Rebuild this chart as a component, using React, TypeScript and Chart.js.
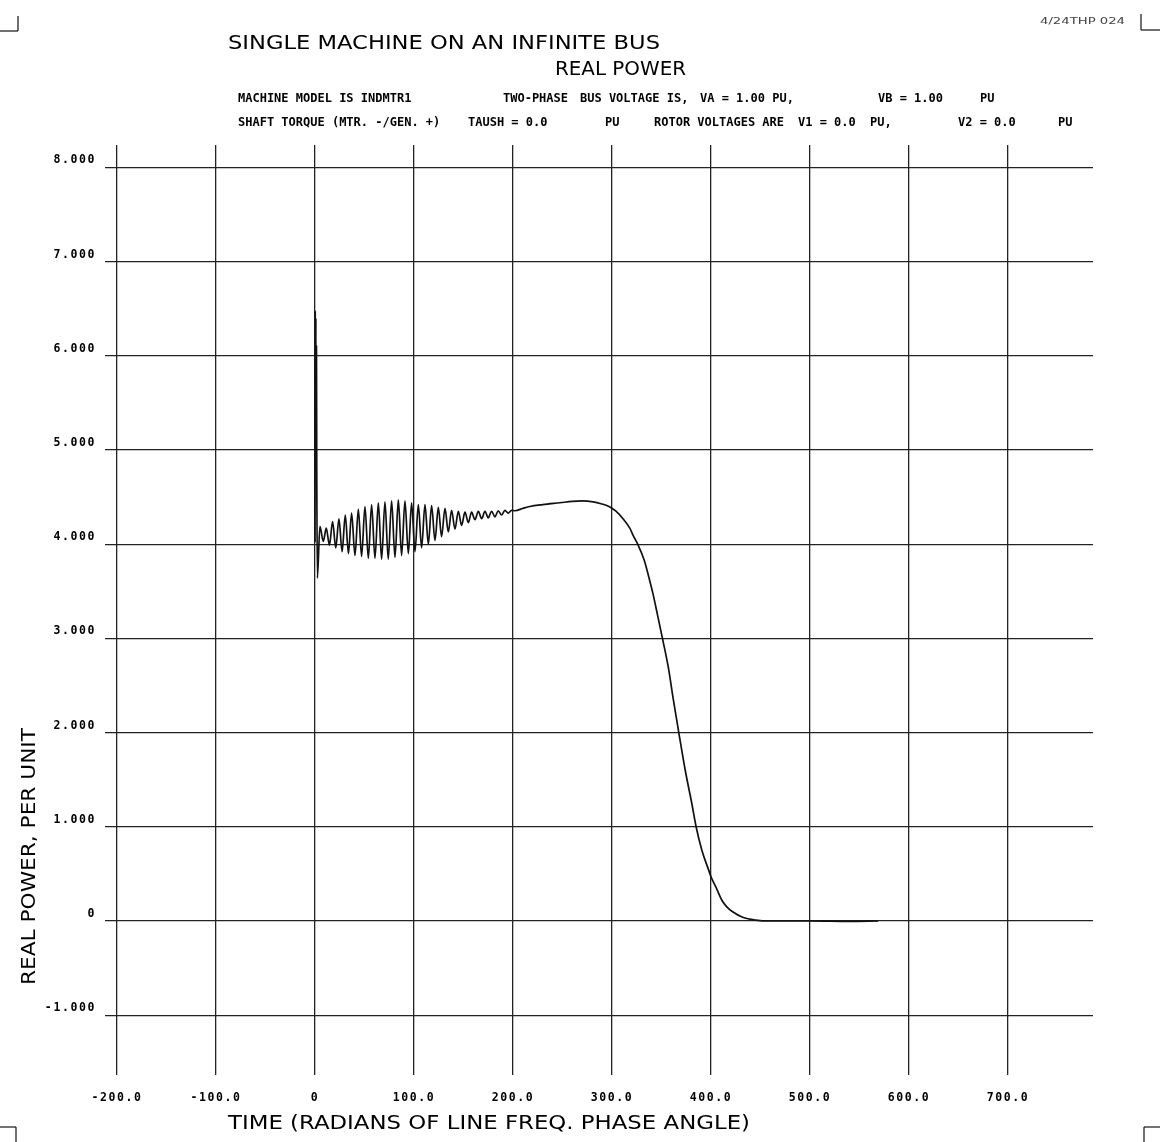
import React, { useEffect, useRef } from "react";
import { Chart, registerables } from "chart.js";

Chart.register(...registerables);

// Time axis (radians of line frequency phase angle)
const timeRad: number[] = [
  0.0, 0.3, 0.6, 0.9, 1.2, 1.5, 1.8, 2.4,
  5.0, 8.4, 11.4, 14.6, 17.8, 21.0, 24.2, 27.4, 30.6, 33.8, 37.0, 40.4,
  43.8, 47.1, 50.5, 53.9, 57.2, 60.6, 64.0, 67.3, 70.7, 74.0,
  77.4, 80.8, 84.2, 87.5, 90.9, 94.3, 97.6, 101.0, 104.4, 107.7,
  111.1, 114.5, 117.8, 121.2, 124.6, 127.9, 131.3, 134.7, 138.0, 141.4,
  144.8, 148.1, 151.5, 154.9, 158.2, 161.6, 165.0, 168.4, 171.7, 175.0,
  178.4, 181.8, 185.1, 188.5, 191.9, 195.2, 198.6, 202.0,
  210, 217, 230, 247.5, 260, 270, 281, 289, 297, 304, 312, 318, 322, 326,
  332.6, 337, 341.5, 346, 351, 356.8, 362, 367.5, 374, 380.6, 385, 390.8,
  397.7, 400, 405, 411, 416, 421.5, 432, 445, 460, 500, 540, 569,
];

// Real power, per unit
const realPowerPU: number[] = [
  4.02, 6.48, 5.0, 6.4, 5.0, 6.1, 4.8, 3.64,
  4.19, 4.03, 4.17, 3.99, 4.24, 3.96, 4.27, 3.92, 4.31, 3.9, 4.33, 3.88,
  4.37, 3.87, 4.4, 3.85, 4.42, 3.85, 4.44, 3.84, 4.45, 3.84,
  4.46, 3.86, 4.47, 3.88, 4.46, 3.9, 4.44, 3.92, 4.42, 3.96,
  4.42, 4.0, 4.41, 4.04, 4.39, 4.08, 4.38, 4.13, 4.36, 4.16,
  4.35, 4.2, 4.34, 4.23, 4.34, 4.26, 4.35, 4.27, 4.35, 4.28,
  4.35, 4.29, 4.355, 4.31, 4.36, 4.33, 4.36, 4.355,
  4.38, 4.4, 4.42, 4.44, 4.455, 4.46, 4.45, 4.43, 4.4, 4.35, 4.26, 4.17, 4.08, 4.0,
  3.83, 3.66, 3.47, 3.25, 3.0, 2.7, 2.35, 2.0, 1.6, 1.25, 1.0, 0.75,
  0.54, 0.47, 0.36, 0.22, 0.15, 0.1, 0.04, 0.01, 0.0, 0.0, -0.005, 0.0,
];

const xTickValues: number[] = [-200, -100, 0, 100, 200, 300, 400, 500, 600, 700];
const xTickLabels: string[] = ["-200.0", "-100.0", "0", "100.0", "200.0", "300.0", "400.0", "500.0", "600.0", "700.0"];
const yTickValues: number[] = [-1, 0, 1, 2, 3, 4, 5, 6, 7, 8];
const yTickLabels: string[] = ["-1.000", "0", "1.000", "2.000", "3.000", "4.000", "5.000", "6.000", "7.000", "8.000"];

const titleLine1 = "SINGLE MACHINE ON AN INFINITE BUS";
const titleLine2 = "REAL POWER";
const xAxisTitle = "TIME (RADIANS OF LINE FREQ. PHASE ANGLE)";
const yAxisTitle = "REAL POWER, PER UNIT";
const stampText = "4/24THP 024";

// header annotation tokens: [text, x]
const headerLine3: [string, number][] = [
  ["MACHINE MODEL IS INDMTR1", 238],
  ["TWO-PHASE", 503],
  ["BUS VOLTAGE IS,", 580],
  ["VA = 1.00 PU,", 700],
  ["VB = 1.00", 878],
  ["PU", 980],
];
const headerLine4: [string, number][] = [
  ["SHAFT TORQUE (MTR. -/GEN. +)", 238],
  ["TAUSH = 0.0", 468],
  ["PU", 605],
  ["ROTOR VOLTAGES ARE", 654],
  ["V1 = 0.0", 798],
  ["PU,", 870],
  ["V2 = 0.0", 958],
  ["PU", 1058],
];

const W = 1160;
const H = 1142;

export default function App() {
  const canvasRef = useRef<HTMLCanvasElement | null>(null);

  useEffect(() => {
    document.body.style.margin = "0";
    document.body.style.overflow = "hidden";
    const canvas = canvasRef.current!;
    const tickFont = { family: "'DejaVu Sans Mono', monospace", size: 11.5, weight: "bold" as const };
    const gridStyle = { color: "#222", lineWidth: 1.3, drawTicks: false };
    const spacingPlugin = {
      id: "tickLetterSpacing",
      beforeDraw(chart: any) {
        (chart.ctx as any).letterSpacing = "1.6px";
      },
    };
    const chart = new Chart(canvas, {
      type: "line",
      data: {
        datasets: [
          {
            data: timeRad.map((t, i) => ({ x: t, y: realPowerPU[i] })),
            borderColor: "#111",
            borderWidth: 1.7,
            pointRadius: 0,
            fill: false,
            cubicInterpolationMode: "monotone",
          },
        ],
      },
      options: {
        responsive: false,
        animation: false,
        devicePixelRatio: 1,
        layout: { padding: { top: 145, right: 67, left: 0, bottom: 0 } },
        plugins: { legend: { display: false }, tooltip: { enabled: false }, title: { display: false } },
        scales: {
          x: {
            type: "linear",
            min: -212.1,
            max: 785.9,
            afterBuildTicks: (s: any) => {
              s.ticks = xTickValues.map((v) => ({ value: v }));
            },
            afterFit: (s: any) => {
              s.height = 67;
            },
            ticks: {
              autoSkip: false,
              maxRotation: 0,
              padding: 16,
              color: "#000",
              font: tickFont,
              callback: (_v: any, i: number) => xTickLabels[i],
            },
            grid: gridStyle,
            border: { display: false },
          },
          y: {
            type: "linear",
            min: -1.635,
            max: 8.238,
            afterBuildTicks: (s: any) => {
              s.ticks = yTickValues.map((v) => ({ value: v }));
            },
            afterFit: (s: any) => {
              s.width = 105;
            },
            ticks: {
              autoSkip: false,
              padding: 9,
              labelOffset: -7,
              color: "#000",
              font: tickFont,
              callback: (_v: any, i: number) => yTickLabels[i],
            },
            grid: gridStyle,
            border: { display: false },
          },
        },
      },
      plugins: [spacingPlugin],
    } as any);
    return () => chart.destroy();
  }, []);

  const plotFont = "'DejaVu Sans', sans-serif";
  const monoFont = "'DejaVu Sans Mono', monospace";
  const hdr = { fontFamily: monoFont, fontSize: 12, fontWeight: 700, fill: "#000", whiteSpace: "pre" } as any;
  const big = { fontFamily: plotFont, fontSize: 20, fill: "#000" } as any;
  const mark = { stroke: "#111", strokeWidth: 1.2 };

  return (
    <div style={{ position: "relative", width: W, height: H, background: "#fff" }}>
      <canvas ref={canvasRef} width={W} height={H} style={{ position: "absolute", left: 0, top: 0, width: W, height: H }} />
      <svg width={W} height={H} style={{ position: "absolute", left: 0, top: 0, pointerEvents: "none" }}>
        <text x={228} y={49} textLength={432} lengthAdjust="spacingAndGlyphs" style={big}>{titleLine1}</text>
        <text x={555} y={75} textLength={131} lengthAdjust="spacingAndGlyphs" style={big}>{titleLine2}</text>

        {headerLine3.map(([t, x], i) => (
          <text key={"h3" + i} x={x} y={102} style={hdr}>{t}</text>
        ))}
        {headerLine4.map(([t, x], i) => (
          <text key={"h4" + i} x={x} y={126} style={hdr}>{t}</text>
        ))}

        <text x={228} y={1129} textLength={522} lengthAdjust="spacingAndGlyphs" style={big}>{xAxisTitle}</text>
        <text x={35} y={985} textLength={257} lengthAdjust="spacingAndGlyphs" transform="rotate(-90 35 985)" style={big}>{yAxisTitle}</text>

        <text x={1040} y={24} textLength={85} lengthAdjust="spacingAndGlyphs" style={{ fontFamily: plotFont, fontSize: 8, fill: "#444" }}>{stampText}</text>

        <line x1={0} y1={31} x2={18} y2={31} {...mark} />
        <line x1={18} y1={16} x2={18} y2={31} {...mark} />
        <line x1={1141} y1={14} x2={1141} y2={30} {...mark} />
        <line x1={1141} y1={30} x2={1160} y2={30} {...mark} />
        <line x1={0} y1={1127} x2={16} y2={1127} {...mark} />
        <line x1={16} y1={1127} x2={16} y2={1142} {...mark} />
        <line x1={1144} y1={1127} x2={1160} y2={1127} {...mark} />
        <line x1={1144} y1={1127} x2={1144} y2={1142} {...mark} />
      </svg>
    </div>
  );
}
